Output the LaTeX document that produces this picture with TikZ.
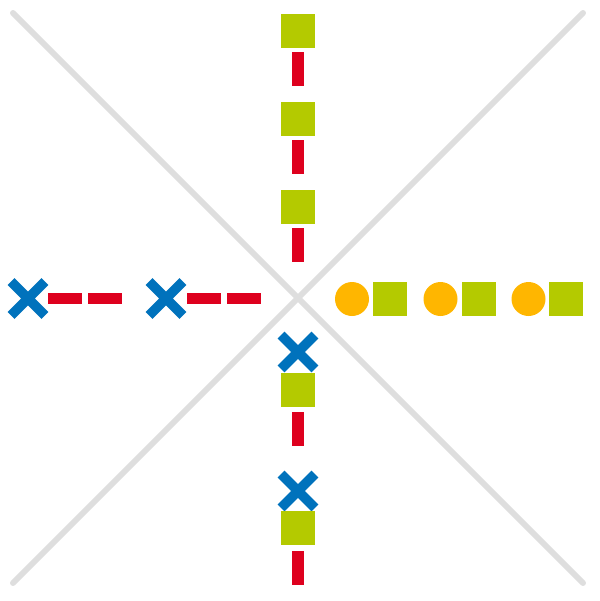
\documentclass[tikz,border=0pt]{standalone}
\usetikzlibrary{shapes.misc}
\definecolor{lime}{RGB}{180,202,0}
\definecolor{signred}{RGB}{222,0,30}
\definecolor{signblue}{RGB}{0,114,188}
\definecolor{signorange}{RGB}{255,182,0}
\definecolor{axisgray}{RGB}{222,222,222}
\begin{document}
\begin{tikzpicture}[x=0.05cm,y=-0.05cm,
	sq/.style={fill=lime,inner sep=0,minimum size=1.7cm},
	vbar/.style={fill=signred,inner sep=0,minimum width=0.6cm,minimum height=1.7cm},
	hbar/.style={fill=signred,inner sep=0,minimum width=1.7cm,minimum height=0.55cm},
	dot/.style={circle,fill=signorange,inner sep=0,minimum size=1.7cm},
	cross/.style={cross out,draw=signblue,line width=14pt,inner sep=0,minimum size=1.2cm}]

\useasboundingbox(0,0)rectangle(600,601);

\coordinate(tl)at(13,13);
\coordinate(tr)at(583,13);
\coordinate(bl)at(13,583);
\coordinate(br)at(583,583);
\draw[axisgray,line width=8.5pt,line cap=round](tl)--(br) (tr)--(bl);

% top
\node[sq](t1)at(298,30.5){};
\node[vbar](t1b)at(298,68.5){};
\node[sq](t2)at(298,119){};
\node[vbar](t2b)at(298,156.5){};
\node[sq](t3)at(298,207){};
\node[vbar](t3b)at(298,245){};

% left
\node[cross](l1)at(28,298.5){};
\node[hbar](l1a)at(65,298.5){};
\node[hbar](l1b)at(105,298.5){};
\node[cross](l2)at(166,298.5){};
\node[hbar](l2a)at(203.5,298.5){};
\node[hbar](l2b)at(243.5,298.5){};

% right
\node[dot](r1)at(352,299){};
\node[sq](r1s)at(390,299){};
\node[dot](r2)at(440.5,299){};
\node[sq](r2s)at(478.5,299){};
\node[dot](r3)at(528.5,299){};
\node[sq](r3s)at(566,299){};

% bottom
\node[cross](b1)at(298,352){};
\node[sq](b1s)at(298,389.5){};
\node[vbar](b1b)at(298,429){};
\node[cross](b2)at(298,491){};
\node[sq](b2s)at(298,528){};
\node[vbar](b2b)at(298,567.5){};

\end{tikzpicture}
\end{document}
